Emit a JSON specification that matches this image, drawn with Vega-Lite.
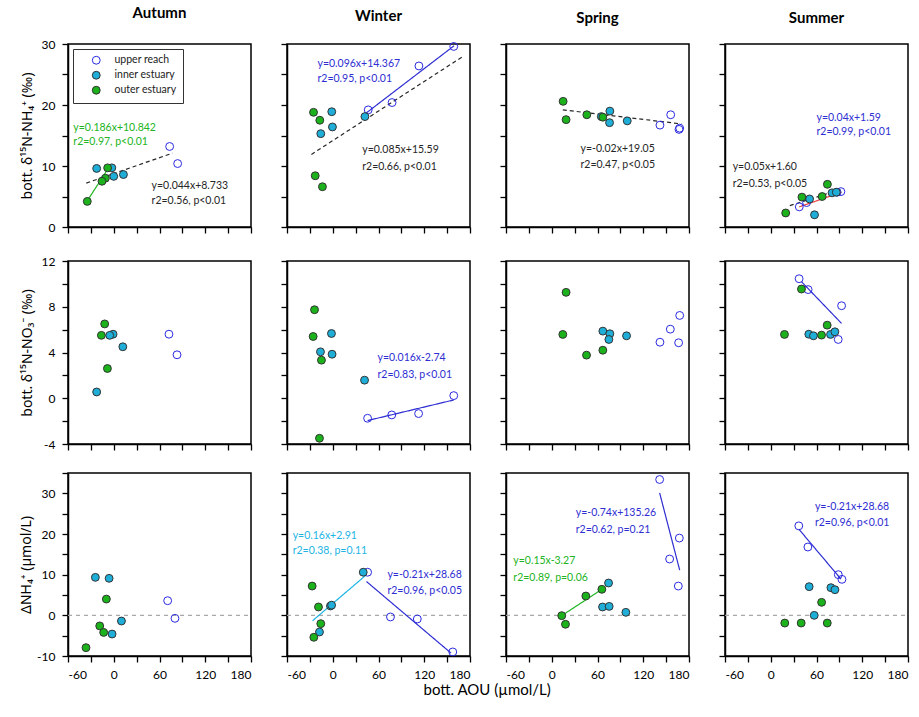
{
"$schema":"https://vega.github.io/schema/vega-lite/v6.json",
"background":"white",
"padding":{"left":18,"top":5,"right":5,"bottom":5},
"title":{"text":"bott. AOU (µmol/L)","orient":"bottom","anchor":"middle","fontSize":15,"fontWeight":"normal","font":"Lato","offset":2,"dx":23},
"config":{
 "font":"Lato",
 "view":{"stroke":"black","strokeWidth":1.5},
 "axis":{"grid":false,"domainColor":"black","domainWidth":1.5,"tickColor":"black","tickWidth":1.3,"tickSize":6,"labelFont":"Lato","labelFontSize":12,"labelColor":"black","labelPadding":7,"titleFont":"Noto Sans","titleFontSize":14,"titleFontWeight":"normal","titleColor":"black"},
 "title":{"font":"Lato","fontSize":15,"fontWeight":"bold","color":"black","offset":17,"anchor":"middle"},
 "legend":{"orient":"top-left","offset":5,"strokeColor":"#333333","fillColor":"white","padding":6,"labelFont":"Lato","labelFontSize":10.5,"labelColor":"#222222","symbolSize":62,"symbolStrokeWidth":1,"rowPadding":2,"labelOffset":13,"symbolOffset":12}
},
"data":{"values":[
{"r":1,"s":"Autumn","k":"l","g":"fit outer","x":-34.7,"y":4.3,"x2":-8.8,"y2":9.3},
{"r":1,"s":"Autumn","k":"l","g":"fit all","x":-36,"y":7.2,"x2":77,"y2":12.1},
{"r":1,"s":"Autumn","k":"p","g":"upper reach","x":73.3,"y":13.2},
{"r":1,"s":"Autumn","k":"p","g":"upper reach","x":83.8,"y":10.4},
{"r":1,"s":"Autumn","k":"p","g":"inner estuary","x":-22.4,"y":9.6},
{"r":1,"s":"Autumn","k":"p","g":"inner estuary","x":-2.5,"y":9.7},
{"r":1,"s":"Autumn","k":"p","g":"inner estuary","x":0,"y":8.3},
{"r":1,"s":"Autumn","k":"p","g":"inner estuary","x":12.7,"y":8.6},
{"r":1,"s":"Autumn","k":"p","g":"outer estuary","x":-8,"y":9.7},
{"r":1,"s":"Autumn","k":"p","g":"outer estuary","x":-11,"y":8.0},
{"r":1,"s":"Autumn","k":"p","g":"outer estuary","x":-15.4,"y":7.5},
{"r":1,"s":"Autumn","k":"p","g":"outer estuary","x":-34.7,"y":4.2},
{"r":1,"s":"Autumn","k":"t","g":"fit outer","x":-53,"y":16.2,"t":"y=0.186x+10.842"},
{"r":1,"s":"Autumn","k":"t","g":"fit outer","x":-53,"y":13.9,"t":"r2=0.97, p<0.01"},
{"r":1,"s":"Autumn","k":"t","g":"fit all","x":49.6,"y":6.7,"t":"y=0.044x+8.733"},
{"r":1,"s":"Autumn","k":"t","g":"fit all","x":49.6,"y":4.2,"t":"r2=0.56, p<0.01"},

{"r":1,"s":"Winter","k":"l","g":"fit upper","x":43,"y":18.6,"x2":159,"y2":29.7},
{"r":1,"s":"Winter","k":"l","g":"fit all","x":-28,"y":11.9,"x2":170,"y2":27.9},
{"r":1,"s":"Winter","k":"p","g":"upper reach","x":158.7,"y":29.6},
{"r":1,"s":"Winter","k":"p","g":"upper reach","x":113,"y":26.4},
{"r":1,"s":"Winter","k":"p","g":"upper reach","x":77.8,"y":20.4},
{"r":1,"s":"Winter","k":"p","g":"upper reach","x":46.5,"y":19.2},
{"r":1,"s":"Winter","k":"p","g":"inner estuary","x":42.2,"y":18.1},
{"r":1,"s":"Winter","k":"p","g":"inner estuary","x":-1.3,"y":18.9},
{"r":1,"s":"Winter","k":"p","g":"inner estuary","x":-0.4,"y":16.4},
{"r":1,"s":"Winter","k":"p","g":"inner estuary","x":-15.7,"y":15.3},
{"r":1,"s":"Winter","k":"p","g":"outer estuary","x":-25.2,"y":18.8},
{"r":1,"s":"Winter","k":"p","g":"outer estuary","x":-17,"y":17.5},
{"r":1,"s":"Winter","k":"p","g":"outer estuary","x":-23,"y":8.4},
{"r":1,"s":"Winter","k":"p","g":"outer estuary","x":-13.5,"y":6.6},
{"r":1,"s":"Winter","k":"t","g":"fit upper","x":-20,"y":26.8,"t":"y=0.096x+14.367"},
{"r":1,"s":"Winter","k":"t","g":"fit upper","x":-20,"y":24.2,"t":"r2=0.95, p<0.01"},
{"r":1,"s":"Winter","k":"t","g":"fit all","x":38.7,"y":12.7,"t":"y=0.085x+15.59"},
{"r":1,"s":"Winter","k":"t","g":"fit all","x":38.7,"y":9.8,"t":"r2=0.66, p<0.01"},

{"r":1,"s":"Spring","k":"l","g":"fit all","x":14.5,"y":19.2,"x2":170,"y2":16.9},
{"r":1,"s":"Spring","k":"p","g":"upper reach","x":141.9,"y":16.7},
{"r":1,"s":"Spring","k":"p","g":"upper reach","x":156,"y":18.4},
{"r":1,"s":"Spring","k":"p","g":"upper reach","x":167.8,"y":16.2},
{"r":1,"s":"Spring","k":"p","g":"upper reach","x":166.9,"y":16.0},
{"r":1,"s":"Spring","k":"p","g":"inner estuary","x":65,"y":18.1},
{"r":1,"s":"Spring","k":"p","g":"inner estuary","x":76.2,"y":19.0},
{"r":1,"s":"Spring","k":"p","g":"inner estuary","x":75.8,"y":17.1},
{"r":1,"s":"Spring","k":"p","g":"inner estuary","x":99,"y":17.4},
{"r":1,"s":"Spring","k":"p","g":"outer estuary","x":14.9,"y":20.6},
{"r":1,"s":"Spring","k":"p","g":"outer estuary","x":18.8,"y":17.6},
{"r":1,"s":"Spring","k":"p","g":"outer estuary","x":46,"y":18.4},
{"r":1,"s":"Spring","k":"p","g":"outer estuary","x":67,"y":18.0},
{"r":1,"s":"Spring","k":"t","g":"fit all","x":37.7,"y":12.8,"t":"y=-0.02x+19.05"},
{"r":1,"s":"Spring","k":"t","g":"fit all","x":37.7,"y":10.1,"t":"r2=0.47, p<0.05"},

{"r":1,"s":"Summer","k":"l","g":"fit all","x":25,"y":3.5,"x2":95,"y2":6.3},
{"r":1,"s":"Summer","k":"l","g":"fit red","x":37.4,"y":3.3,"x2":92.6,"y2":5.7},
{"r":1,"s":"Summer","k":"p","g":"upper reach","x":37.4,"y":3.3},
{"r":1,"s":"Summer","k":"p","g":"upper reach","x":47,"y":4.0},
{"r":1,"s":"Summer","k":"p","g":"upper reach","x":87,"y":5.7},
{"r":1,"s":"Summer","k":"p","g":"upper reach","x":92,"y":5.8},
{"r":1,"s":"Summer","k":"p","g":"inner estuary","x":50.9,"y":4.6},
{"r":1,"s":"Summer","k":"p","g":"inner estuary","x":57.4,"y":2.0},
{"r":1,"s":"Summer","k":"p","g":"inner estuary","x":80.4,"y":5.6},
{"r":1,"s":"Summer","k":"p","g":"inner estuary","x":86,"y":5.7},
{"r":1,"s":"Summer","k":"p","g":"outer estuary","x":19.6,"y":2.3},
{"r":1,"s":"Summer","k":"p","g":"outer estuary","x":40.9,"y":4.9},
{"r":1,"s":"Summer","k":"p","g":"outer estuary","x":67.4,"y":5.0},
{"r":1,"s":"Summer","k":"p","g":"outer estuary","x":74.3,"y":7.0},
{"r":1,"s":"Summer","k":"t","g":"fit upper","x":60,"y":17.9,"t":"y=0.04x+1.59"},
{"r":1,"s":"Summer","k":"t","g":"fit upper","x":60,"y":15.6,"t":"r2=0.99, p<0.01"},
{"r":1,"s":"Summer","k":"t","g":"fit all","x":-50,"y":9.8,"t":"y=0.05x+1.60"},
{"r":1,"s":"Summer","k":"t","g":"fit all","x":-50,"y":7.1,"t":"r2=0.53, p<0.05"},

{"r":2,"s":"Autumn","k":"p","g":"upper reach","x":72.4,"y":5.6},
{"r":2,"s":"Autumn","k":"p","g":"upper reach","x":83,"y":3.8},
{"r":2,"s":"Autumn","k":"p","g":"inner estuary","x":-22.4,"y":0.55},
{"r":2,"s":"Autumn","k":"p","g":"inner estuary","x":-0.9,"y":5.6},
{"r":2,"s":"Autumn","k":"p","g":"inner estuary","x":-5.3,"y":5.5},
{"r":2,"s":"Autumn","k":"p","g":"inner estuary","x":11.9,"y":4.5},
{"r":2,"s":"Autumn","k":"p","g":"outer estuary","x":-11.9,"y":6.5},
{"r":2,"s":"Autumn","k":"p","g":"outer estuary","x":-16.2,"y":5.5},
{"r":2,"s":"Autumn","k":"p","g":"outer estuary","x":-8.3,"y":2.6},

{"r":2,"s":"Winter","k":"l","g":"fit upper","x":45.7,"y":-1.95,"x2":158.7,"y2":-0.15},
{"r":2,"s":"Winter","k":"p","g":"upper reach","x":45.7,"y":-1.75},
{"r":2,"s":"Winter","k":"p","g":"upper reach","x":77.4,"y":-1.46},
{"r":2,"s":"Winter","k":"p","g":"upper reach","x":112.6,"y":-1.34},
{"r":2,"s":"Winter","k":"p","g":"upper reach","x":158.7,"y":0.23},
{"r":2,"s":"Winter","k":"p","g":"inner estuary","x":-1.7,"y":5.66},
{"r":2,"s":"Winter","k":"p","g":"inner estuary","x":-16.1,"y":4.06},
{"r":2,"s":"Winter","k":"p","g":"inner estuary","x":-0.9,"y":3.85},
{"r":2,"s":"Winter","k":"p","g":"inner estuary","x":41.7,"y":1.58},
{"r":2,"s":"Winter","k":"p","g":"outer estuary","x":-23.9,"y":7.74},
{"r":2,"s":"Winter","k":"p","g":"outer estuary","x":-25.7,"y":5.4},
{"r":2,"s":"Winter","k":"p","g":"outer estuary","x":-14.8,"y":3.33},
{"r":2,"s":"Winter","k":"p","g":"outer estuary","x":-17.4,"y":-3.5},
{"r":2,"s":"Winter","k":"t","g":"fit upper","x":58.7,"y":3.56,"t":"y=0.016x-2.74"},
{"r":2,"s":"Winter","k":"t","g":"fit upper","x":58.7,"y":2.04,"t":"r2=0.83, p<0.01"},

{"r":2,"s":"Spring","k":"p","g":"upper reach","x":141.9,"y":4.9},
{"r":2,"s":"Spring","k":"p","g":"upper reach","x":155.5,"y":6.04},
{"r":2,"s":"Spring","k":"p","g":"upper reach","x":167.8,"y":7.24},
{"r":2,"s":"Spring","k":"p","g":"upper reach","x":166.4,"y":4.85},
{"r":2,"s":"Spring","k":"p","g":"inner estuary","x":67,"y":5.87},
{"r":2,"s":"Spring","k":"p","g":"inner estuary","x":76.2,"y":5.64},
{"r":2,"s":"Spring","k":"p","g":"inner estuary","x":74.9,"y":5.14},
{"r":2,"s":"Spring","k":"p","g":"inner estuary","x":98.1,"y":5.46},
{"r":2,"s":"Spring","k":"p","g":"outer estuary","x":18.8,"y":9.26},
{"r":2,"s":"Spring","k":"p","g":"outer estuary","x":14.5,"y":5.58},
{"r":2,"s":"Spring","k":"p","g":"outer estuary","x":45.6,"y":3.77},
{"r":2,"s":"Spring","k":"p","g":"outer estuary","x":67,"y":4.2},

{"r":2,"s":"Summer","k":"l","g":"fit upper","x":40.3,"y":10.19,"x2":92.9,"y2":6.54},
{"r":2,"s":"Summer","k":"p","g":"upper reach","x":37.2,"y":10.45},
{"r":2,"s":"Summer","k":"p","g":"upper reach","x":49,"y":9.5},
{"r":2,"s":"Summer","k":"p","g":"upper reach","x":92.9,"y":8.09},
{"r":2,"s":"Summer","k":"p","g":"upper reach","x":88.5,"y":5.14},
{"r":2,"s":"Summer","k":"p","g":"inner estuary","x":49.9,"y":5.6},
{"r":2,"s":"Summer","k":"p","g":"inner estuary","x":56,"y":5.46},
{"r":2,"s":"Summer","k":"p","g":"inner estuary","x":78.4,"y":5.58},
{"r":2,"s":"Summer","k":"p","g":"inner estuary","x":84.1,"y":5.81},
{"r":2,"s":"Summer","k":"p","g":"outer estuary","x":40.3,"y":9.55},
{"r":2,"s":"Summer","k":"p","g":"outer estuary","x":18,"y":5.58},
{"r":2,"s":"Summer","k":"p","g":"outer estuary","x":66.6,"y":5.52},
{"r":2,"s":"Summer","k":"p","g":"outer estuary","x":74,"y":6.39},

{"r":3,"s":"Autumn","k":"l","g":"zero","x":-60,"y":0,"x2":180,"y2":0},
{"r":3,"s":"Autumn","k":"p","g":"upper reach","x":70.7,"y":3.6},
{"r":3,"s":"Autumn","k":"p","g":"upper reach","x":80.3,"y":-0.74},
{"r":3,"s":"Autumn","k":"p","g":"inner estuary","x":-24.1,"y":9.34},
{"r":3,"s":"Autumn","k":"p","g":"inner estuary","x":-6.1,"y":9.1},
{"r":3,"s":"Autumn","k":"p","g":"inner estuary","x":-2.2,"y":-4.6},
{"r":3,"s":"Autumn","k":"p","g":"inner estuary","x":10.1,"y":-1.4},
{"r":3,"s":"Autumn","k":"p","g":"outer estuary","x":-9.7,"y":4.0},
{"r":3,"s":"Autumn","k":"p","g":"outer estuary","x":-18.4,"y":-2.6},
{"r":3,"s":"Autumn","k":"p","g":"outer estuary","x":-13.2,"y":-4.2},
{"r":3,"s":"Autumn","k":"p","g":"outer estuary","x":-36.4,"y":-7.95},

{"r":3,"s":"Winter","k":"l","g":"zero","x":-60,"y":0,"x2":180,"y2":0},
{"r":3,"s":"Winter","k":"l","g":"fit inner","x":-26.5,"y":-1.33,"x2":43,"y2":9.79},
{"r":3,"s":"Winter","k":"l","g":"fit upper","x":44.3,"y":8.3,"x2":155.2,"y2":-9.3},
{"r":3,"s":"Winter","k":"p","g":"upper reach","x":45.7,"y":10.6},
{"r":3,"s":"Winter","k":"p","g":"upper reach","x":75.7,"y":-0.4},
{"r":3,"s":"Winter","k":"p","g":"upper reach","x":110.9,"y":-0.9},
{"r":3,"s":"Winter","k":"p","g":"upper reach","x":157.4,"y":-9.0},
{"r":3,"s":"Winter","k":"p","g":"inner estuary","x":-3,"y":2.3},
{"r":3,"s":"Winter","k":"p","g":"inner estuary","x":-1.5,"y":2.5},
{"r":3,"s":"Winter","k":"p","g":"inner estuary","x":-17.4,"y":-4.1},
{"r":3,"s":"Winter","k":"p","g":"inner estuary","x":40,"y":10.6},
{"r":3,"s":"Winter","k":"p","g":"outer estuary","x":-27,"y":7.2},
{"r":3,"s":"Winter","k":"p","g":"outer estuary","x":-18.7,"y":2.05},
{"r":3,"s":"Winter","k":"p","g":"outer estuary","x":-15.7,"y":-2.05},
{"r":3,"s":"Winter","k":"p","g":"outer estuary","x":-24.8,"y":-5.4},
{"r":3,"s":"Winter","k":"t","g":"fit inner","x":-52.6,"y":19.6,"t":"y=0.16x+2.91"},
{"r":3,"s":"Winter","k":"t","g":"fit inner","x":-52.6,"y":15.7,"t":"r2=0.38, p=0.11"},
{"r":3,"s":"Winter","k":"t","g":"fit upper","x":71.7,"y":9.9,"t":"y=-0.21x+28.68"},
{"r":3,"s":"Winter","k":"t","g":"fit upper","x":71.7,"y":6.1,"t":"r2=0.96, p<0.05"},

{"r":3,"s":"Spring","k":"l","g":"zero","x":-60,"y":0,"x2":180,"y2":0},
{"r":3,"s":"Spring","k":"l","g":"fit outer","x":13.1,"y":-0.08,"x2":65.7,"y2":6.4},
{"r":3,"s":"Spring","k":"l","g":"fit upper","x":141.5,"y":30.1,"x2":167.8,"y2":11.1},
{"r":3,"s":"Spring","k":"p","g":"upper reach","x":141.5,"y":33.4},
{"r":3,"s":"Spring","k":"p","g":"upper reach","x":167.3,"y":19.0},
{"r":3,"s":"Spring","k":"p","g":"upper reach","x":154.6,"y":13.85},
{"r":3,"s":"Spring","k":"p","g":"upper reach","x":166,"y":7.2},
{"r":3,"s":"Spring","k":"p","g":"inner estuary","x":74.5,"y":7.95},
{"r":3,"s":"Spring","k":"p","g":"inner estuary","x":66.6,"y":2.05},
{"r":3,"s":"Spring","k":"p","g":"inner estuary","x":75.3,"y":2.2},
{"r":3,"s":"Spring","k":"p","g":"inner estuary","x":97.2,"y":0.74},
{"r":3,"s":"Spring","k":"p","g":"outer estuary","x":13.1,"y":-0.08},
{"r":3,"s":"Spring","k":"p","g":"outer estuary","x":18,"y":-2.2},
{"r":3,"s":"Spring","k":"p","g":"outer estuary","x":44.7,"y":4.75},
{"r":3,"s":"Spring","k":"p","g":"outer estuary","x":65.7,"y":6.4},
{"r":3,"s":"Spring","k":"t","g":"fit upper","x":31.5,"y":25.2,"t":"y=-0.74x+135.26"},
{"r":3,"s":"Spring","k":"t","g":"fit upper","x":31.5,"y":21.1,"t":"r2=0.62, p=0.21"},
{"r":3,"s":"Spring","k":"t","g":"fit outer","x":-50.4,"y":13.4,"t":"y=0.15x-3.27"},
{"r":3,"s":"Spring","k":"t","g":"fit outer","x":-50.4,"y":9.3,"t":"r2=0.89, p=0.06"},

{"r":3,"s":"Summer","k":"l","g":"zero","x":-60,"y":0,"x2":180,"y2":0},
{"r":3,"s":"Summer","k":"l","g":"fit upper","x":36.8,"y":21.2,"x2":92.1,"y2":8.9},
{"r":3,"s":"Summer","k":"p","g":"upper reach","x":36.8,"y":22},
{"r":3,"s":"Summer","k":"p","g":"upper reach","x":48.7,"y":16.8},
{"r":3,"s":"Summer","k":"p","g":"upper reach","x":88.6,"y":10},
{"r":3,"s":"Summer","k":"p","g":"upper reach","x":93.4,"y":8.85},
{"r":3,"s":"Summer","k":"p","g":"inner estuary","x":50.4,"y":7.05},
{"r":3,"s":"Summer","k":"p","g":"inner estuary","x":78.9,"y":6.8},
{"r":3,"s":"Summer","k":"p","g":"inner estuary","x":84.2,"y":6.3},
{"r":3,"s":"Summer","k":"p","g":"inner estuary","x":57,"y":0},
{"r":3,"s":"Summer","k":"p","g":"outer estuary","x":18.4,"y":-1.9},
{"r":3,"s":"Summer","k":"p","g":"outer estuary","x":39.9,"y":-1.9},
{"r":3,"s":"Summer","k":"p","g":"outer estuary","x":74.1,"y":-1.9},
{"r":3,"s":"Summer","k":"p","g":"outer estuary","x":66.7,"y":3.2},
{"r":3,"s":"Summer","k":"t","g":"fit upper","x":57.9,"y":26.6,"t":"y=-0.21x+28.68"},
{"r":3,"s":"Summer","k":"t","g":"fit upper","x":57.9,"y":22.6,"t":"r2=0.96, p<0.01"}
]},
"spacing":19,
"resolve":{"scale":{"fill":"independent","stroke":"independent","color":"independent","strokeDash":"independent"}},
"vconcat":[
{"spacing":26,"resolve":{"scale":{"fill":"independent","stroke":"independent","color":"independent","strokeDash":"independent"}},"hconcat":[
 {"width":183,"height":183,"title":"Autumn","transform":[{"filter":"datum.r==1 && datum.s=='Autumn'"}],
  "encoding":{"x":{"field":"x","type":"quantitative","scale":{"domain":[-60,180],"nice":false,"zero":false},"axis":{"values":[-60,-30,0,30,60,90,120,150,180],"labels":false,"title":null}},
   "y":{"field":"y","type":"quantitative","scale":{"domain":[0,30],"nice":false,"zero":false},"axis":{"values":[0,5,10,15,20,25,30],"labelExpr":"datum.value % 10 == 0 ? '' + datum.value : ''","title":"bott. δ¹⁵N-NH₄⁺ (‰)","titlePadding":7}}},
  "layer":[
   {"transform":[{"filter":"datum.k=='l'"}],"mark":{"type":"rule","strokeWidth":1.2},"encoding":{"x2":{"field":"x2"},"y2":{"field":"y2"},"color":{"field":"g","type":"nominal","scale":{"domain":["fit upper","fit inner","fit outer","fit all","fit red","zero"],"range":["#2E2ED2","#1DB4E4","#22B422","#262626","#E83A3A","#A8A8A8"]},"legend":null},"strokeDash":{"field":"g","type":"nominal","scale":{"domain":["fit upper","fit inner","fit outer","fit all","fit red","zero"],"range":[[1,0],[1,0],[1,0],[4,3],[1,0],[4,4]]},"legend":null}}},
   {"transform":[{"filter":"datum.k=='p'"}],"mark":{"type":"circle","size":62,"opacity":1,"strokeWidth":1},"encoding":{"fill":{"field":"g","type":"nominal","scale":{"domain":["upper reach","inner estuary","outer estuary"],"range":["transparent","#1EAED8","#1BB21B"]},"legend":{"title":null}},"stroke":{"field":"g","type":"nominal","scale":{"domain":["upper reach","inner estuary","outer estuary"],"range":["#2A2AE0","#333333","#333333"]},"legend":{"title":null}}}},
   {"transform":[{"filter":"datum.k=='t'"}],"mark":{"type":"text","align":"left","baseline":"middle","fontSize":10.5,"font":"Lato"},"encoding":{"text":{"field":"t"},"color":{"field":"g","type":"nominal","scale":{"domain":["fit upper","fit inner","fit outer","fit all","fit red","zero"],"range":["#2E2ED2","#1DB4E4","#22B422","#262626","#E83A3A","#A8A8A8"]},"legend":null}}}
  ]},
 {"width":183,"height":183,"title":"Winter","transform":[{"filter":"datum.r==1 && datum.s=='Winter'"}],
  "encoding":{"x":{"field":"x","type":"quantitative","scale":{"domain":[-60,180],"nice":false,"zero":false},"axis":{"values":[-60,-30,0,30,60,90,120,150,180],"labels":false,"title":null}},
   "y":{"field":"y","type":"quantitative","scale":{"domain":[0,30],"nice":false,"zero":false},"axis":{"values":[0,5,10,15,20,25,30],"labels":false,"title":null}}},
  "layer":[
   {"transform":[{"filter":"datum.k=='l'"}],"mark":{"type":"rule","strokeWidth":1.2},"encoding":{"x2":{"field":"x2"},"y2":{"field":"y2"},"color":{"field":"g","type":"nominal","scale":{"domain":["fit upper","fit inner","fit outer","fit all","fit red","zero"],"range":["#2E2ED2","#1DB4E4","#22B422","#262626","#E83A3A","#A8A8A8"]},"legend":null},"strokeDash":{"field":"g","type":"nominal","scale":{"domain":["fit upper","fit inner","fit outer","fit all","fit red","zero"],"range":[[1,0],[1,0],[1,0],[4,3],[1,0],[4,4]]},"legend":null}}},
   {"transform":[{"filter":"datum.k=='p'"}],"mark":{"type":"circle","size":62,"opacity":1,"strokeWidth":1},"encoding":{"fill":{"field":"g","type":"nominal","scale":{"domain":["upper reach","inner estuary","outer estuary"],"range":["transparent","#1EAED8","#1BB21B"]},"legend":null},"stroke":{"field":"g","type":"nominal","scale":{"domain":["upper reach","inner estuary","outer estuary"],"range":["#2A2AE0","#333333","#333333"]},"legend":null}}},
   {"transform":[{"filter":"datum.k=='t'"}],"mark":{"type":"text","align":"left","baseline":"middle","fontSize":10.5,"font":"Lato"},"encoding":{"text":{"field":"t"},"color":{"field":"g","type":"nominal","scale":{"domain":["fit upper","fit inner","fit outer","fit all","fit red","zero"],"range":["#2E2ED2","#1DB4E4","#22B422","#262626","#E83A3A","#A8A8A8"]},"legend":null}}}
  ]},
 {"width":183,"height":183,"title":"Spring","transform":[{"filter":"datum.r==1 && datum.s=='Spring'"}],
  "encoding":{"x":{"field":"x","type":"quantitative","scale":{"domain":[-60,180],"nice":false,"zero":false},"axis":{"values":[-60,-30,0,30,60,90,120,150,180],"labels":false,"title":null}},
   "y":{"field":"y","type":"quantitative","scale":{"domain":[0,30],"nice":false,"zero":false},"axis":{"values":[0,5,10,15,20,25,30],"labels":false,"title":null}}},
  "layer":[
   {"transform":[{"filter":"datum.k=='l'"}],"mark":{"type":"rule","strokeWidth":1.2},"encoding":{"x2":{"field":"x2"},"y2":{"field":"y2"},"color":{"field":"g","type":"nominal","scale":{"domain":["fit upper","fit inner","fit outer","fit all","fit red","zero"],"range":["#2E2ED2","#1DB4E4","#22B422","#262626","#E83A3A","#A8A8A8"]},"legend":null},"strokeDash":{"field":"g","type":"nominal","scale":{"domain":["fit upper","fit inner","fit outer","fit all","fit red","zero"],"range":[[1,0],[1,0],[1,0],[4,3],[1,0],[4,4]]},"legend":null}}},
   {"transform":[{"filter":"datum.k=='p'"}],"mark":{"type":"circle","size":62,"opacity":1,"strokeWidth":1},"encoding":{"fill":{"field":"g","type":"nominal","scale":{"domain":["upper reach","inner estuary","outer estuary"],"range":["transparent","#1EAED8","#1BB21B"]},"legend":null},"stroke":{"field":"g","type":"nominal","scale":{"domain":["upper reach","inner estuary","outer estuary"],"range":["#2A2AE0","#333333","#333333"]},"legend":null}}},
   {"transform":[{"filter":"datum.k=='t'"}],"mark":{"type":"text","align":"left","baseline":"middle","fontSize":10.5,"font":"Lato"},"encoding":{"text":{"field":"t"},"color":{"field":"g","type":"nominal","scale":{"domain":["fit upper","fit inner","fit outer","fit all","fit red","zero"],"range":["#2E2ED2","#1DB4E4","#22B422","#262626","#E83A3A","#A8A8A8"]},"legend":null}}}
  ]},
 {"width":183,"height":183,"title":"Summer","transform":[{"filter":"datum.r==1 && datum.s=='Summer'"}],
  "encoding":{"x":{"field":"x","type":"quantitative","scale":{"domain":[-60,180],"nice":false,"zero":false},"axis":{"values":[-60,-30,0,30,60,90,120,150,180],"labels":false,"title":null}},
   "y":{"field":"y","type":"quantitative","scale":{"domain":[0,30],"nice":false,"zero":false},"axis":{"values":[0,5,10,15,20,25,30],"labels":false,"title":null}}},
  "layer":[
   {"transform":[{"filter":"datum.k=='l'"}],"mark":{"type":"rule","strokeWidth":1.2},"encoding":{"x2":{"field":"x2"},"y2":{"field":"y2"},"color":{"field":"g","type":"nominal","scale":{"domain":["fit upper","fit inner","fit outer","fit all","fit red","zero"],"range":["#2E2ED2","#1DB4E4","#22B422","#262626","#E83A3A","#A8A8A8"]},"legend":null},"strokeDash":{"field":"g","type":"nominal","scale":{"domain":["fit upper","fit inner","fit outer","fit all","fit red","zero"],"range":[[1,0],[1,0],[1,0],[4,3],[1,0],[4,4]]},"legend":null}}},
   {"transform":[{"filter":"datum.k=='p'"}],"mark":{"type":"circle","size":62,"opacity":1,"strokeWidth":1},"encoding":{"fill":{"field":"g","type":"nominal","scale":{"domain":["upper reach","inner estuary","outer estuary"],"range":["transparent","#1EAED8","#1BB21B"]},"legend":null},"stroke":{"field":"g","type":"nominal","scale":{"domain":["upper reach","inner estuary","outer estuary"],"range":["#2A2AE0","#333333","#333333"]},"legend":null}}},
   {"transform":[{"filter":"datum.k=='t'"}],"mark":{"type":"text","align":"left","baseline":"middle","fontSize":10.5,"font":"Lato"},"encoding":{"text":{"field":"t"},"color":{"field":"g","type":"nominal","scale":{"domain":["fit upper","fit inner","fit outer","fit all","fit red","zero"],"range":["#2E2ED2","#1DB4E4","#22B422","#262626","#E83A3A","#A8A8A8"]},"legend":null}}}
  ]}
]},
{"spacing":26,"resolve":{"scale":{"fill":"independent","stroke":"independent","color":"independent","strokeDash":"independent"}},"hconcat":[
 {"width":183,"height":183,"transform":[{"filter":"datum.r==2 && datum.s=='Autumn'"}],
  "encoding":{"x":{"field":"x","type":"quantitative","scale":{"domain":[-60,180],"nice":false,"zero":false},"axis":{"values":[-60,-30,0,30,60,90,120,150,180],"labels":false,"title":null}},
   "y":{"field":"y","type":"quantitative","scale":{"domain":[-4,12],"nice":false,"zero":false},"axis":{"values":[-4,-2,0,2,4,6,8,10,12],"labelExpr":"datum.value % 4 == 0 ? '' + datum.value : ''","title":"bott. δ¹⁵N-NO₃⁻ (‰)","titlePadding":7}}},
  "layer":[
   {"transform":[{"filter":"datum.k=='l'"}],"mark":{"type":"rule","strokeWidth":1.2},"encoding":{"x2":{"field":"x2"},"y2":{"field":"y2"},"color":{"field":"g","type":"nominal","scale":{"domain":["fit upper","fit inner","fit outer","fit all","fit red","zero"],"range":["#2E2ED2","#1DB4E4","#22B422","#262626","#E83A3A","#A8A8A8"]},"legend":null},"strokeDash":{"field":"g","type":"nominal","scale":{"domain":["fit upper","fit inner","fit outer","fit all","fit red","zero"],"range":[[1,0],[1,0],[1,0],[4,3],[1,0],[4,4]]},"legend":null}}},
   {"transform":[{"filter":"datum.k=='p'"}],"mark":{"type":"circle","size":62,"opacity":1,"strokeWidth":1},"encoding":{"fill":{"field":"g","type":"nominal","scale":{"domain":["upper reach","inner estuary","outer estuary"],"range":["transparent","#1EAED8","#1BB21B"]},"legend":null},"stroke":{"field":"g","type":"nominal","scale":{"domain":["upper reach","inner estuary","outer estuary"],"range":["#2A2AE0","#333333","#333333"]},"legend":null}}},
   {"transform":[{"filter":"datum.k=='t'"}],"mark":{"type":"text","align":"left","baseline":"middle","fontSize":10.5,"font":"Lato"},"encoding":{"text":{"field":"t"},"color":{"field":"g","type":"nominal","scale":{"domain":["fit upper","fit inner","fit outer","fit all","fit red","zero"],"range":["#2E2ED2","#1DB4E4","#22B422","#262626","#E83A3A","#A8A8A8"]},"legend":null}}}
  ]},
 {"width":183,"height":183,"transform":[{"filter":"datum.r==2 && datum.s=='Winter'"}],
  "encoding":{"x":{"field":"x","type":"quantitative","scale":{"domain":[-60,180],"nice":false,"zero":false},"axis":{"values":[-60,-30,0,30,60,90,120,150,180],"labels":false,"title":null}},
   "y":{"field":"y","type":"quantitative","scale":{"domain":[-4,12],"nice":false,"zero":false},"axis":{"values":[-4,-2,0,2,4,6,8,10,12],"labels":false,"title":null}}},
  "layer":[
   {"transform":[{"filter":"datum.k=='l'"}],"mark":{"type":"rule","strokeWidth":1.2},"encoding":{"x2":{"field":"x2"},"y2":{"field":"y2"},"color":{"field":"g","type":"nominal","scale":{"domain":["fit upper","fit inner","fit outer","fit all","fit red","zero"],"range":["#2E2ED2","#1DB4E4","#22B422","#262626","#E83A3A","#A8A8A8"]},"legend":null},"strokeDash":{"field":"g","type":"nominal","scale":{"domain":["fit upper","fit inner","fit outer","fit all","fit red","zero"],"range":[[1,0],[1,0],[1,0],[4,3],[1,0],[4,4]]},"legend":null}}},
   {"transform":[{"filter":"datum.k=='p'"}],"mark":{"type":"circle","size":62,"opacity":1,"strokeWidth":1},"encoding":{"fill":{"field":"g","type":"nominal","scale":{"domain":["upper reach","inner estuary","outer estuary"],"range":["transparent","#1EAED8","#1BB21B"]},"legend":null},"stroke":{"field":"g","type":"nominal","scale":{"domain":["upper reach","inner estuary","outer estuary"],"range":["#2A2AE0","#333333","#333333"]},"legend":null}}},
   {"transform":[{"filter":"datum.k=='t'"}],"mark":{"type":"text","align":"left","baseline":"middle","fontSize":10.5,"font":"Lato"},"encoding":{"text":{"field":"t"},"color":{"field":"g","type":"nominal","scale":{"domain":["fit upper","fit inner","fit outer","fit all","fit red","zero"],"range":["#2E2ED2","#1DB4E4","#22B422","#262626","#E83A3A","#A8A8A8"]},"legend":null}}}
  ]},
 {"width":183,"height":183,"transform":[{"filter":"datum.r==2 && datum.s=='Spring'"}],
  "encoding":{"x":{"field":"x","type":"quantitative","scale":{"domain":[-60,180],"nice":false,"zero":false},"axis":{"values":[-60,-30,0,30,60,90,120,150,180],"labels":false,"title":null}},
   "y":{"field":"y","type":"quantitative","scale":{"domain":[-4,12],"nice":false,"zero":false},"axis":{"values":[-4,-2,0,2,4,6,8,10,12],"labels":false,"title":null}}},
  "layer":[
   {"transform":[{"filter":"datum.k=='l'"}],"mark":{"type":"rule","strokeWidth":1.2},"encoding":{"x2":{"field":"x2"},"y2":{"field":"y2"},"color":{"field":"g","type":"nominal","scale":{"domain":["fit upper","fit inner","fit outer","fit all","fit red","zero"],"range":["#2E2ED2","#1DB4E4","#22B422","#262626","#E83A3A","#A8A8A8"]},"legend":null},"strokeDash":{"field":"g","type":"nominal","scale":{"domain":["fit upper","fit inner","fit outer","fit all","fit red","zero"],"range":[[1,0],[1,0],[1,0],[4,3],[1,0],[4,4]]},"legend":null}}},
   {"transform":[{"filter":"datum.k=='p'"}],"mark":{"type":"circle","size":62,"opacity":1,"strokeWidth":1},"encoding":{"fill":{"field":"g","type":"nominal","scale":{"domain":["upper reach","inner estuary","outer estuary"],"range":["transparent","#1EAED8","#1BB21B"]},"legend":null},"stroke":{"field":"g","type":"nominal","scale":{"domain":["upper reach","inner estuary","outer estuary"],"range":["#2A2AE0","#333333","#333333"]},"legend":null}}},
   {"transform":[{"filter":"datum.k=='t'"}],"mark":{"type":"text","align":"left","baseline":"middle","fontSize":10.5,"font":"Lato"},"encoding":{"text":{"field":"t"},"color":{"field":"g","type":"nominal","scale":{"domain":["fit upper","fit inner","fit outer","fit all","fit red","zero"],"range":["#2E2ED2","#1DB4E4","#22B422","#262626","#E83A3A","#A8A8A8"]},"legend":null}}}
  ]},
 {"width":183,"height":183,"transform":[{"filter":"datum.r==2 && datum.s=='Summer'"}],
  "encoding":{"x":{"field":"x","type":"quantitative","scale":{"domain":[-60,180],"nice":false,"zero":false},"axis":{"values":[-60,-30,0,30,60,90,120,150,180],"labels":false,"title":null}},
   "y":{"field":"y","type":"quantitative","scale":{"domain":[-4,12],"nice":false,"zero":false},"axis":{"values":[-4,-2,0,2,4,6,8,10,12],"labels":false,"title":null}}},
  "layer":[
   {"transform":[{"filter":"datum.k=='l'"}],"mark":{"type":"rule","strokeWidth":1.2},"encoding":{"x2":{"field":"x2"},"y2":{"field":"y2"},"color":{"field":"g","type":"nominal","scale":{"domain":["fit upper","fit inner","fit outer","fit all","fit red","zero"],"range":["#2E2ED2","#1DB4E4","#22B422","#262626","#E83A3A","#A8A8A8"]},"legend":null},"strokeDash":{"field":"g","type":"nominal","scale":{"domain":["fit upper","fit inner","fit outer","fit all","fit red","zero"],"range":[[1,0],[1,0],[1,0],[4,3],[1,0],[4,4]]},"legend":null}}},
   {"transform":[{"filter":"datum.k=='p'"}],"mark":{"type":"circle","size":62,"opacity":1,"strokeWidth":1},"encoding":{"fill":{"field":"g","type":"nominal","scale":{"domain":["upper reach","inner estuary","outer estuary"],"range":["transparent","#1EAED8","#1BB21B"]},"legend":null},"stroke":{"field":"g","type":"nominal","scale":{"domain":["upper reach","inner estuary","outer estuary"],"range":["#2A2AE0","#333333","#333333"]},"legend":null}}},
   {"transform":[{"filter":"datum.k=='t'"}],"mark":{"type":"text","align":"left","baseline":"middle","fontSize":10.5,"font":"Lato"},"encoding":{"text":{"field":"t"},"color":{"field":"g","type":"nominal","scale":{"domain":["fit upper","fit inner","fit outer","fit all","fit red","zero"],"range":["#2E2ED2","#1DB4E4","#22B422","#262626","#E83A3A","#A8A8A8"]},"legend":null}}}
  ]}
]},
{"spacing":26,"resolve":{"scale":{"fill":"independent","stroke":"independent","color":"independent","strokeDash":"independent"}},"hconcat":[
 {"width":183,"height":183,"transform":[{"filter":"datum.r==3 && datum.s=='Autumn'"}],
  "encoding":{"x":{"field":"x","type":"quantitative","scale":{"domain":[-60,180],"nice":false,"zero":false},"axis":{"values":[-60,-30,0,30,60,90,120,150,180],"labelExpr":"datum.value % 60 == 0 ? '' + datum.value : ''","title":null}},
   "y":{"field":"y","type":"quantitative","scale":{"domain":[-10,35],"nice":false,"zero":false},"axis":{"values":[-10,-5,0,5,10,15,20,25,30,35],"labelExpr":"datum.value % 10 == 0 ? '' + datum.value : ''","title":"ΔNH₄⁺ (µmol/L)","titlePadding":3}}},
  "layer":[
   {"transform":[{"filter":"datum.k=='l'"}],"mark":{"type":"rule","strokeWidth":1.2},"encoding":{"x2":{"field":"x2"},"y2":{"field":"y2"},"color":{"field":"g","type":"nominal","scale":{"domain":["fit upper","fit inner","fit outer","fit all","fit red","zero"],"range":["#2E2ED2","#1DB4E4","#22B422","#262626","#E83A3A","#A8A8A8"]},"legend":null},"strokeDash":{"field":"g","type":"nominal","scale":{"domain":["fit upper","fit inner","fit outer","fit all","fit red","zero"],"range":[[1,0],[1,0],[1,0],[4,3],[1,0],[4,4]]},"legend":null}}},
   {"transform":[{"filter":"datum.k=='p'"}],"mark":{"type":"circle","size":62,"opacity":1,"strokeWidth":1},"encoding":{"fill":{"field":"g","type":"nominal","scale":{"domain":["upper reach","inner estuary","outer estuary"],"range":["transparent","#1EAED8","#1BB21B"]},"legend":null},"stroke":{"field":"g","type":"nominal","scale":{"domain":["upper reach","inner estuary","outer estuary"],"range":["#2A2AE0","#333333","#333333"]},"legend":null}}},
   {"transform":[{"filter":"datum.k=='t'"}],"mark":{"type":"text","align":"left","baseline":"middle","fontSize":10.5,"font":"Lato"},"encoding":{"text":{"field":"t"},"color":{"field":"g","type":"nominal","scale":{"domain":["fit upper","fit inner","fit outer","fit all","fit red","zero"],"range":["#2E2ED2","#1DB4E4","#22B422","#262626","#E83A3A","#A8A8A8"]},"legend":null}}}
  ]},
 {"width":183,"height":183,"transform":[{"filter":"datum.r==3 && datum.s=='Winter'"}],
  "encoding":{"x":{"field":"x","type":"quantitative","scale":{"domain":[-60,180],"nice":false,"zero":false},"axis":{"values":[-60,-30,0,30,60,90,120,150,180],"labelExpr":"datum.value % 60 == 0 ? '' + datum.value : ''","title":null}},
   "y":{"field":"y","type":"quantitative","scale":{"domain":[-10,35],"nice":false,"zero":false},"axis":{"values":[-10,-5,0,5,10,15,20,25,30,35],"labels":false,"title":null}}},
  "layer":[
   {"transform":[{"filter":"datum.k=='l'"}],"mark":{"type":"rule","strokeWidth":1.2},"encoding":{"x2":{"field":"x2"},"y2":{"field":"y2"},"color":{"field":"g","type":"nominal","scale":{"domain":["fit upper","fit inner","fit outer","fit all","fit red","zero"],"range":["#2E2ED2","#1DB4E4","#22B422","#262626","#E83A3A","#A8A8A8"]},"legend":null},"strokeDash":{"field":"g","type":"nominal","scale":{"domain":["fit upper","fit inner","fit outer","fit all","fit red","zero"],"range":[[1,0],[1,0],[1,0],[4,3],[1,0],[4,4]]},"legend":null}}},
   {"transform":[{"filter":"datum.k=='p'"}],"mark":{"type":"circle","size":62,"opacity":1,"strokeWidth":1},"encoding":{"fill":{"field":"g","type":"nominal","scale":{"domain":["upper reach","inner estuary","outer estuary"],"range":["transparent","#1EAED8","#1BB21B"]},"legend":null},"stroke":{"field":"g","type":"nominal","scale":{"domain":["upper reach","inner estuary","outer estuary"],"range":["#2A2AE0","#333333","#333333"]},"legend":null}}},
   {"transform":[{"filter":"datum.k=='t'"}],"mark":{"type":"text","align":"left","baseline":"middle","fontSize":10.5,"font":"Lato"},"encoding":{"text":{"field":"t"},"color":{"field":"g","type":"nominal","scale":{"domain":["fit upper","fit inner","fit outer","fit all","fit red","zero"],"range":["#2E2ED2","#1DB4E4","#22B422","#262626","#E83A3A","#A8A8A8"]},"legend":null}}}
  ]},
 {"width":183,"height":183,"transform":[{"filter":"datum.r==3 && datum.s=='Spring'"}],
  "encoding":{"x":{"field":"x","type":"quantitative","scale":{"domain":[-60,180],"nice":false,"zero":false},"axis":{"values":[-60,-30,0,30,60,90,120,150,180],"labelExpr":"datum.value % 60 == 0 ? '' + datum.value : ''","title":null}},
   "y":{"field":"y","type":"quantitative","scale":{"domain":[-10,35],"nice":false,"zero":false},"axis":{"values":[-10,-5,0,5,10,15,20,25,30,35],"labels":false,"title":null}}},
  "layer":[
   {"transform":[{"filter":"datum.k=='l'"}],"mark":{"type":"rule","strokeWidth":1.2},"encoding":{"x2":{"field":"x2"},"y2":{"field":"y2"},"color":{"field":"g","type":"nominal","scale":{"domain":["fit upper","fit inner","fit outer","fit all","fit red","zero"],"range":["#2E2ED2","#1DB4E4","#22B422","#262626","#E83A3A","#A8A8A8"]},"legend":null},"strokeDash":{"field":"g","type":"nominal","scale":{"domain":["fit upper","fit inner","fit outer","fit all","fit red","zero"],"range":[[1,0],[1,0],[1,0],[4,3],[1,0],[4,4]]},"legend":null}}},
   {"transform":[{"filter":"datum.k=='p'"}],"mark":{"type":"circle","size":62,"opacity":1,"strokeWidth":1},"encoding":{"fill":{"field":"g","type":"nominal","scale":{"domain":["upper reach","inner estuary","outer estuary"],"range":["transparent","#1EAED8","#1BB21B"]},"legend":null},"stroke":{"field":"g","type":"nominal","scale":{"domain":["upper reach","inner estuary","outer estuary"],"range":["#2A2AE0","#333333","#333333"]},"legend":null}}},
   {"transform":[{"filter":"datum.k=='t'"}],"mark":{"type":"text","align":"left","baseline":"middle","fontSize":10.5,"font":"Lato"},"encoding":{"text":{"field":"t"},"color":{"field":"g","type":"nominal","scale":{"domain":["fit upper","fit inner","fit outer","fit all","fit red","zero"],"range":["#2E2ED2","#1DB4E4","#22B422","#262626","#E83A3A","#A8A8A8"]},"legend":null}}}
  ]},
 {"width":183,"height":183,"transform":[{"filter":"datum.r==3 && datum.s=='Summer'"}],
  "encoding":{"x":{"field":"x","type":"quantitative","scale":{"domain":[-60,180],"nice":false,"zero":false},"axis":{"values":[-60,-30,0,30,60,90,120,150,180],"labelExpr":"datum.value % 60 == 0 ? '' + datum.value : ''","title":null}},
   "y":{"field":"y","type":"quantitative","scale":{"domain":[-10,35],"nice":false,"zero":false},"axis":{"values":[-10,-5,0,5,10,15,20,25,30,35],"labels":false,"title":null}}},
  "layer":[
   {"transform":[{"filter":"datum.k=='l'"}],"mark":{"type":"rule","strokeWidth":1.2},"encoding":{"x2":{"field":"x2"},"y2":{"field":"y2"},"color":{"field":"g","type":"nominal","scale":{"domain":["fit upper","fit inner","fit outer","fit all","fit red","zero"],"range":["#2E2ED2","#1DB4E4","#22B422","#262626","#E83A3A","#A8A8A8"]},"legend":null},"strokeDash":{"field":"g","type":"nominal","scale":{"domain":["fit upper","fit inner","fit outer","fit all","fit red","zero"],"range":[[1,0],[1,0],[1,0],[4,3],[1,0],[4,4]]},"legend":null}}},
   {"transform":[{"filter":"datum.k=='p'"}],"mark":{"type":"circle","size":62,"opacity":1,"strokeWidth":1},"encoding":{"fill":{"field":"g","type":"nominal","scale":{"domain":["upper reach","inner estuary","outer estuary"],"range":["transparent","#1EAED8","#1BB21B"]},"legend":null},"stroke":{"field":"g","type":"nominal","scale":{"domain":["upper reach","inner estuary","outer estuary"],"range":["#2A2AE0","#333333","#333333"]},"legend":null}}},
   {"transform":[{"filter":"datum.k=='t'"}],"mark":{"type":"text","align":"left","baseline":"middle","fontSize":10.5,"font":"Lato"},"encoding":{"text":{"field":"t"},"color":{"field":"g","type":"nominal","scale":{"domain":["fit upper","fit inner","fit outer","fit all","fit red","zero"],"range":["#2E2ED2","#1DB4E4","#22B422","#262626","#E83A3A","#A8A8A8"]},"legend":null}}}
  ]}
]}
]
}
